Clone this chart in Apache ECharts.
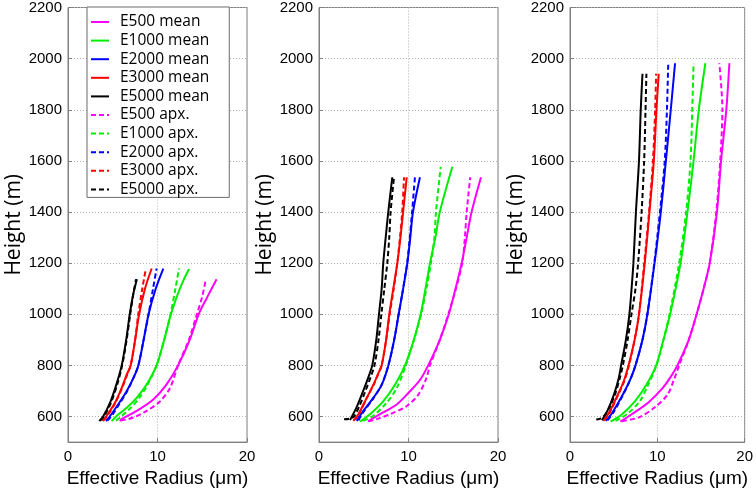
<!DOCTYPE html>
<html>
<head>
<meta charset="utf-8">
<script src="https://cdn.jsdelivr.net/npm/echarts@6/dist/echarts.min.js"></script>
<style>
html,body{margin:0;padding:0;background:#fff;}
#chart{width:756px;height:493px;}
</style>
</head>
<body>
<div id="chart"></div>
<script>
// ---- labels ----
const seriesNames = ['E500 mean','E1000 mean','E2000 mean','E3000 mean','E5000 mean',
                     'E500 apx.','E1000 apx.','E2000 apx.','E3000 apx.','E5000 apx.'];
const xTicks = [0, 10, 20];
const yTicks = [600, 800, 1000, 1200, 1400, 1600, 1800, 2000, 2200];
const xTitle = 'Effective Radius (\u03bcm)';
const yTitle = 'Height (m)';

// ---- panel 1 : [effective radius, height] ----
const p1_E500_mean  = [[5.8,582],[6.0,590],[7.67,622],[9.53,667],[11.0,725],[12.3,800],[13.6,900],[14.6,1000],[15.6,1070],[16.6,1137]];
const p1_E1000_mean = [[4.88,582],[5.43,602],[6.55,634],[7.67,673],[8.78,725],[9.9,800],[10.75,900],[11.5,1000],[12.5,1100],[13.55,1179]];
const p1_E2000_mean = [[4.24,582],[4.7,602],[5.6,647],[6.55,699],[7.3,750],[7.86,800],[8.45,900],[9.0,1000],[9.8,1100],[10.65,1179]];
const p1_E3000_mean = [[3.87,582],[4.3,602],[5.25,654],[6.0,712],[6.55,763],[7.0,800],[7.5,900],[7.95,1000],[8.6,1100],[9.35,1179]];
const p1_E5000_mean = [[3.5,582],[3.95,602],[4.7,654],[5.4,725],[6.0,800],[6.5,900],[6.9,1000],[7.3,1080],[7.7,1137]];
const p1_E500_apx   = [[5.9,584],[7.3,596],[8.78,622],[10.3,660],[11.4,712],[12.3,800],[13.5,900],[14.4,1000],[15.0,1070],[15.4,1137]];
const p1_E1000_apx  = [[5.36,584],[6.0,602],[7.0,634],[7.96,673],[8.9,725],[9.9,800],[10.75,900],[11.45,1000],[12.0,1100],[12.4,1179]];
const p1_E2000_apx  = [[4.4,584],[4.85,602],[5.7,647],[6.6,699],[7.3,750],[7.86,800],[8.45,900],[9.0,1000],[9.5,1100],[9.9,1179]];
const p1_E3000_apx  = [[3.95,584],[4.4,602],[5.3,654],[6.05,712],[6.6,763],[7.0,800],[7.5,900],[7.85,1000],[8.3,1100],[8.7,1179]];
const p1_E5000_apx  = [[3.6,584],[4.05,602],[4.8,654],[5.5,725],[6.05,800],[6.55,900],[6.95,1000],[7.3,1080],[7.6,1137]];

// ---- panel 2 ----
const p2_E500_mean  = [[5.5,581],[6.82,609],[8.68,647],[10.17,699],[11.3,744],[12.2,800],[13.5,900],[14.5,1000],[15.25,1100],[15.94,1200],[16.5,1300],[17.05,1400],[18.1,1536]];
const p2_E1000_mean = [[4.58,580],[5.7,609],[7.19,660],[8.49,724],[9.61,800],[10.6,900],[11.36,1000],[11.9,1100],[12.4,1200],[13.0,1300],[13.5,1400],[14.9,1577]];
const p2_E2000_mean = [[4.21,583],[4.95,622],[6.07,673],[7.0,724],[7.75,800],[8.4,900],[8.9,1000],[9.4,1100],[9.87,1200],[10.2,1300],[10.5,1400],[11.28,1536]];
const p2_E3000_mean = [[3.84,583],[4.4,609],[5.33,673],[6.07,724],[6.63,769],[7.0,800],[7.5,900],[7.85,1000],[8.3,1100],[8.75,1200],[9.1,1300],[9.4,1400],[9.8,1536]];
const p2_E5000_mean = [[3.46,586],[4.21,637],[4.95,701],[5.5,752],[5.95,800],[6.4,900],[6.7,1000],[7.0,1100],[7.18,1200],[7.45,1300],[7.74,1400],[8.19,1536]];
const p2_E500_apx   = [[5.5,581],[6.45,590],[7.93,609],[9.8,641],[11.1,686],[12.0,750],[12.4,800],[13.5,900],[14.45,1000],[15.3,1100],[16.0,1200],[16.3,1300],[16.5,1400],[16.9,1536]];
const p2_E1000_apx  = [[4.95,583],[6.07,603],[7.56,654],[8.68,711],[9.7,800],[10.6,900],[11.4,1000],[12.0,1100],[12.5,1200],[12.9,1300],[13.07,1400],[13.6,1577]];
const p2_E2000_apx  = [[4.4,585],[5.05,622],[6.1,673],[7.0,724],[7.75,800],[8.4,900],[8.9,1000],[9.4,1100],[9.85,1200],[10.15,1300],[10.4,1400],[10.72,1536]];
const p2_E3000_apx  = [[3.9,585],[4.45,609],[5.35,673],[6.1,724],[6.65,769],[7.0,800],[7.5,900],[7.9,1000],[8.35,1100],[8.75,1200],[9.05,1300],[9.3,1400],[9.5,1536]];
const p2_E5000_apx  = [[2.8,589],[3.4,592],[3.9,600],[4.5,640],[5.2,701],[5.75,752],[6.2,800],[6.65,900],[6.97,1000],[7.3,1100],[7.63,1200],[7.85,1300],[8.0,1400],[8.38,1536]];

// ---- panel 3 ----
const p3_E500_mean  = [[5.77,580],[7.07,609],[8.94,654],[10.6,711],[11.55,756],[12.3,800],[13.6,900],[14.5,1000],[15.3,1100],[16.0,1200],[16.83,1400],[17.3,1600],[17.9,1800],[18.25,1982]];
const p3_E1000_mean = [[4.65,580],[5.96,609],[7.45,660],[8.75,724],[9.87,800],[10.7,900],[11.47,1000],[12.66,1200],[13.45,1400],[14.15,1600],[14.75,1800],[15.5,1982]];
const p3_E2000_mean = [[4.1,583],[4.84,615],[5.96,680],[6.89,744],[7.5,800],[8.3,900],[8.86,1000],[9.68,1200],[10.4,1400],[10.98,1600],[11.54,1800],[12.03,1982]];
const p3_E3000_mean = [[3.8,583],[4.47,615],[5.4,680],[6.14,737],[6.7,800],[7.4,900],[7.9,1000],[8.56,1200],[9.1,1400],[9.6,1600],[9.9,1800],[10.16,1941]];
const p3_E5000_mean = [[3.65,586],[4.28,622],[5.03,686],[5.58,750],[5.85,800],[6.4,900],[6.8,1000],[7.05,1100],[7.26,1200],[7.55,1400],[7.9,1600],[8.1,1800],[8.3,1941]];
const p3_E500_apx   = [[5.96,582],[7.82,596],[9.68,635],[11.17,686],[11.9,744],[12.5,800],[13.6,900],[14.5,1000],[15.3,1100],[16.0,1200],[16.75,1400],[17.2,1600],[17.45,1800],[17.1,1982]];
const p3_E1000_apx  = [[5.21,583],[6.51,609],[8.0,660],[8.94,724],[9.9,800],[10.7,900],[11.4,1000],[12.5,1200],[13.3,1400],[13.8,1600],[14.0,1800],[14.15,1982]];
const p3_E2000_apx  = [[4.3,585],[4.95,615],[6.0,680],[6.9,744],[7.5,800],[8.3,900],[8.86,1000],[9.65,1200],[10.3,1400],[10.85,1600],[11.1,1800],[11.25,1982]];
const p3_E3000_apx  = [[3.9,585],[4.55,615],[5.45,680],[6.2,737],[6.75,800],[7.4,900],[7.9,1000],[8.5,1200],[9.05,1400],[9.5,1600],[9.75,1800],[9.86,1941]];
const p3_E5000_apx  = [[3.0,588],[3.4,591],[3.85,600],[4.45,630],[5.15,686],[5.7,750],[6.05,800],[6.6,900],[7.04,1000],[7.5,1100],[7.8,1200],[8.2,1400],[8.49,1600],[8.65,1800],[8.75,1941]];

const panels = [
  [p1_E500_mean,p1_E1000_mean,p1_E2000_mean,p1_E3000_mean,p1_E5000_mean,p1_E500_apx,p1_E1000_apx,p1_E2000_apx,p1_E3000_apx,p1_E5000_apx],
  [p2_E500_mean,p2_E1000_mean,p2_E2000_mean,p2_E3000_mean,p2_E5000_mean,p2_E500_apx,p2_E1000_apx,p2_E2000_apx,p2_E3000_apx,p2_E5000_apx],
  [p3_E500_mean,p3_E1000_mean,p3_E2000_mean,p3_E3000_mean,p3_E5000_mean,p3_E500_apx,p3_E1000_apx,p3_E2000_apx,p3_E3000_apx,p3_E5000_apx]
];

// ---- styling ----
const colors = ['#ff00ff','#00ee00','#0000ff','#ff0000','#000000'];
const gridLefts = [68, 319, 570];
const axisColor = '#808080';
const tickFont = 'Liberation Sans, Arial, sans-serif';

const grids = [], xAxes = [], yAxes = [], series = [];
gridLefts.forEach((left, p) => {
  grids.push({left: left, top: 7, width: 179, height: 441, show: true,
              borderColor: axisColor, borderWidth: 1, backgroundColor: 'transparent'});
  xAxes.push({
    type: 'value', gridIndex: p, min: xTicks[0], max: xTicks[xTicks.length-1], interval: 10,
    axisLine: {show: true, onZero: false, lineStyle: {color: axisColor, width: 1}},
    axisTick: {show: true, inside: true, length: 4, lineStyle: {color: axisColor}},
    axisLabel: {fontSize: 15, color: '#000', margin: 7, fontFamily: tickFont},
    splitLine: {show: true, lineStyle: {type: [1, 2], color: '#b0b0b0', width: 1}},
    name: xTitle, nameLocation: 'middle', nameGap: 21,
    nameTextStyle: {fontSize: 19, color: '#000', fontFamily: 'Liberation Sans Narrow, Liberation Sans, Arial, sans-serif'}
  });
  yAxes.push({
    type: 'value', gridIndex: p, min: 500, max: 2200,
    axisLine: {show: true, onZero: false, lineStyle: {color: axisColor, width: 1}},
    axisTick: {show: true, inside: true, length: 4, lineStyle: {color: axisColor}, customValues: yTicks},
    axisLabel: {fontSize: 15, color: '#000', margin: 6, fontFamily: tickFont, customValues: yTicks,
                formatter: v => String(v)},
    splitLine: {show: true, lineStyle: {type: [1, 2], color: '#b0b0b0', width: 1}},
    name: yTitle, nameLocation: 'middle', nameGap: 41,
    nameTextStyle: {fontSize: 21, color: '#000', fontFamily: 'Open Sans, sans-serif'}
  });
  panels[p].forEach((data, k) => {
    series.push({
      name: seriesNames[k], type: 'line', xAxisIndex: p, yAxisIndex: p,
      data: data, symbol: 'none', smooth: 0.3, animation: false,
      lineStyle: {color: colors[k % 5], width: 2, type: k < 5 ? 'solid' : [5, 3]},
      itemStyle: {color: colors[k % 5]}
    });
  });
});

const chart = echarts.init(document.getElementById('chart'), null, {renderer: 'canvas'});
chart.setOption({
  animation: false,
  backgroundColor: '#fff',
  grid: grids, xAxis: xAxes, yAxis: yAxes, series: series,
  legend: {
    data: seriesNames, orient: 'vertical', left: 87, top: 7,
    padding: [7, 20, 0, 3], itemWidth: 18, itemHeight: 14, itemGap: 2.6,
    backgroundColor: '#fff', borderColor: '#6b6b6b', borderWidth: 1, borderRadius: 0,
    itemStyle: {color: 'rgba(0,0,0,0)', borderColor: 'rgba(0,0,0,0)', borderWidth: 0},
    textStyle: {fontSize: 15.5, color: '#000', fontFamily: 'Open Sans, sans-serif', padding: [0,0,0,6]}
  }
});
</script>
</body>
</html>
